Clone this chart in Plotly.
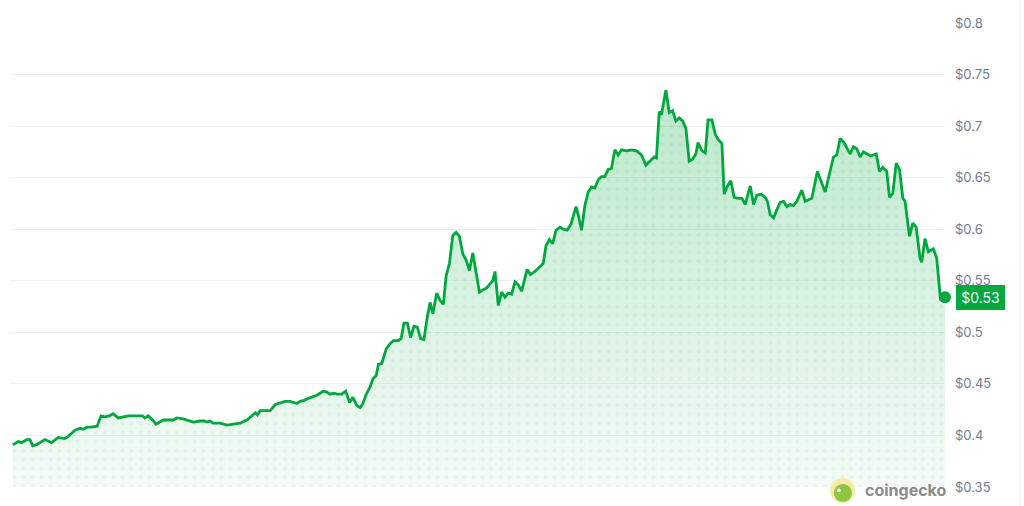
import plotly.graph_objects as go

# time (hours from start) and price (USD)
hours = [0, 1.0, 1.6, 2.5, 3.1, 3.6, 4.3, 5.8, 7.0, 8.2, 9.4, 10.0, 11.2, 12.1, 12.7, 13.4, 14.1, 14.8, 15.2,
         15.9, 16.6, 17.4, 18.1, 19.0, 19.9, 20.8, 22.3, 22.9, 23.4, 23.8, 24.4, 25.2, 25.8, 26.5, 27.1,
         28.9, 29.6, 30.7, 32.5, 33.8, 34.5, 35.0, 35.6, 36.1, 37.4, 38.6, 39.5, 41.0, 42.2, 43.7, 44.1,
         44.6, 45.0, 45.8, 46.4, 47.3, 47.9, 49.1, 50.0, 51.2, 51.8, 52.5, 53.3, 53.9, 54.8, 56.0, 56.6,
         57.2, 57.8, 58.4, 59.3, 60.0, 60.3, 60.7, 61.3, 62.0, 62.6, 63.1, 63.7, 64.4, 64.9, 65.5, 65.9,
         66.5, 67.3, 68.0, 68.6, 69.5, 70.0, 70.5, 71.1, 71.7, 72.3, 72.9, 73.5, 74.1, 74.7, 75.2, 75.7,
         76.4, 77.0, 77.6, 78.1, 78.7, 79.3, 79.9, 80.5, 81.1, 81.7, 82.3, 82.9, 83.5, 84.1, 84.7, 85.4,
         86.0, 86.5, 86.9, 87.5, 88.1, 88.7, 89.3, 89.9, 90.5, 91.1, 91.7, 92.7, 93.3, 94.1, 94.9, 95.6,
         96.1, 96.7, 97.3, 97.9, 98.6, 99.2, 99.9, 100.6, 101.5, 101.9, 102.5, 103.1, 103.7, 104.3, 104.9,
         105.5, 106.1, 106.7, 107.3, 107.9, 108.5, 109.1, 109.7, 110.6, 111.5, 112.4, 113.3, 114.1, 114.8,
         115.6, 116.0, 116.5, 116.9, 117.7, 118.3, 118.9, 119.5, 120.1, 120.7, 121.3, 121.9, 122.5, 123.1,
         123.5, 124.2, 124.8, 125.3, 126.0, 126.6, 127.1, 127.8, 128.2, 128.8, 129.4, 130.0, 130.8, 131.4,
         132.0, 132.9, 133.5, 134.1, 134.8, 135.6, 136.0, 136.5, 137.1, 137.7, 138.3, 138.9, 139.5, 140.1,
         140.7, 141.3, 142.2, 142.8, 144.0, 145.0, 145.8, 146.4, 147.9, 148.5, 149.1, 149.8, 150.9, 151.5,
         152.1, 152.7, 153.3, 153.9, 154.6, 155.6, 156.2, 156.8, 157.5, 158.0, 158.6, 159.2, 159.8, 160.4,
         160.8, 161.6, 162.2, 162.8, 163.5, 163.8, 164.4, 165.0, 165.9, 166.5, 167.2, 167.7, 168.0]

prices = [0.391, 0.394, 0.393, 0.396, 0.396, 0.390, 0.391, 0.396, 0.393, 0.398, 0.397, 0.399, 0.405, 0.407,
          0.406, 0.408, 0.408, 0.409, 0.409, 0.419, 0.418, 0.419, 0.421, 0.417, 0.418, 0.419, 0.419, 0.419,
          0.419, 0.417, 0.419, 0.415, 0.411, 0.413, 0.415, 0.415, 0.417, 0.416, 0.413, 0.414, 0.414, 0.413,
          0.414, 0.412, 0.412, 0.410, 0.411, 0.412, 0.415, 0.422, 0.420, 0.424, 0.424, 0.424, 0.424, 0.430,
          0.431, 0.433, 0.433, 0.431, 0.433, 0.434, 0.436, 0.437, 0.439, 0.443, 0.442, 0.440, 0.441, 0.440,
          0.440, 0.443, 0.439, 0.432, 0.437, 0.429, 0.427, 0.431, 0.440, 0.447, 0.455, 0.458, 0.469, 0.470,
          0.484, 0.489, 0.492, 0.492, 0.494, 0.509, 0.509, 0.495, 0.506, 0.505, 0.494, 0.493, 0.515, 0.529,
          0.518, 0.538, 0.531, 0.527, 0.555, 0.567, 0.594, 0.597, 0.593, 0.576, 0.570, 0.560, 0.577, 0.557,
          0.539, 0.541, 0.543, 0.547, 0.550, 0.559, 0.526, 0.539, 0.534, 0.538, 0.537, 0.549, 0.546, 0.540,
          0.561, 0.556, 0.559, 0.563, 0.567, 0.584, 0.590, 0.586, 0.599, 0.602, 0.600, 0.599, 0.605, 0.622,
          0.614, 0.599, 0.623, 0.636, 0.641, 0.640, 0.648, 0.651, 0.651, 0.658, 0.659, 0.677, 0.672, 0.677,
          0.676, 0.677, 0.676, 0.672, 0.662, 0.666, 0.670, 0.669, 0.714, 0.711, 0.735, 0.713, 0.715, 0.705,
          0.708, 0.705, 0.698, 0.666, 0.668, 0.673, 0.684, 0.676, 0.674, 0.706, 0.706, 0.692, 0.687, 0.683,
          0.634, 0.642, 0.647, 0.631, 0.630, 0.630, 0.624, 0.642, 0.624, 0.633, 0.634, 0.631, 0.627, 0.614,
          0.611, 0.619, 0.626, 0.627, 0.622, 0.624, 0.623, 0.627, 0.638, 0.627, 0.630, 0.656, 0.644, 0.636,
          0.670, 0.672, 0.688, 0.684, 0.673, 0.680, 0.678, 0.670, 0.675, 0.673, 0.671, 0.673, 0.656, 0.660,
          0.656, 0.631, 0.635, 0.664, 0.658, 0.630, 0.627, 0.593, 0.606, 0.602, 0.572, 0.568, 0.591, 0.578,
          0.581, 0.572, 0.531, 0.536, 0.534]

tick_vals = [0.35, 0.4, 0.45, 0.5, 0.55, 0.6, 0.65, 0.7, 0.75, 0.8]
tick_text = ["$0.35", "$0.4", "$0.45", "$0.5", "$0.55", "$0.6", "$0.65", "$0.7", "$0.75", "$0.8"]

GREEN = "#00a83e"

fig = go.Figure()

# gradient area
fig.add_trace(go.Scatter(
    x=hours, y=prices, mode="lines", line=dict(width=0), fill="tozeroy",
    fillgradient=dict(type="vertical", start=0.35, stop=0.74,
                      colorscale=[[0, "rgba(0,168,62,0.04)"], [1, "rgba(0,168,62,0.27)"]]),
    hoverinfo="skip", showlegend=False))

# dot pattern
fig.add_trace(go.Scatter(
    x=hours, y=prices, mode="lines", line=dict(width=0), fill="tozeroy",
    fillcolor="rgba(0,0,0,0)",
    fillpattern=dict(shape=".", size=9, solidity=0.18, fgcolor="rgba(0,140,60,0.10)",
                     bgcolor="rgba(0,0,0,0)"),
    hoverinfo="skip", showlegend=False))

# price line
fig.add_trace(go.Scatter(
    x=hours, y=prices, mode="lines", line=dict(color=GREEN, width=2.8),
    showlegend=False))

# last point marker
fig.add_trace(go.Scatter(
    x=[hours[-1]], y=[prices[-1]], mode="markers",
    marker=dict(color=GREEN, size=12), cliponaxis=False, showlegend=False))

fig.add_annotation(
    x=1, xref="paper", y=prices[-1], yref="y", xanchor="left", yanchor="middle",
    xshift=11, text=f"&#8202;${prices[-1]:.2f}&#8202;", showarrow=False,
    font=dict(color="white", size=14, family="Inter"),
    bgcolor=GREEN, borderpad=3, bordercolor=GREEN)

# coingecko watermark
fig.add_shape(type="circle", xref="paper", yref="paper",
              x0=0.877, x1=0.904, y0=-0.0345, y1=0.0194,
              fillcolor="#f7e9a6", line=dict(width=0), layer="above")
fig.add_shape(type="circle", xref="paper", yref="paper",
              x0=0.881, x1=0.9005, y0=-0.032, y1=0.0065,
              fillcolor="#8dc63f", line=dict(width=0), layer="above")
fig.add_shape(type="circle", xref="paper", yref="paper",
              x0=0.8845, x1=0.8885, y0=-0.0115, y1=-0.0035,
              fillcolor="white", line=dict(width=0), layer="above")
fig.add_annotation(x=0.912, xref="paper", y=-0.0065, yref="paper", xanchor="left",
                   yanchor="middle", text="<b>coingecko</b>", showarrow=False,
                   font=dict(color="#8a8a8a", size=16, family="Inter"))

fig.add_shape(type="line", xref="paper", yref="paper", x0=1.0802, x1=1.0802, y0=-0.05, y1=1.06,
              line=dict(color="#eeeeee", width=1))

fig.update_layout(
    width=1024, height=506,
    margin=dict(l=10, r=79, t=23, b=19),
    paper_bgcolor="white", plot_bgcolor="white",
    xaxis=dict(visible=False, range=[-0.5, 168.0], showgrid=False, zeroline=False),
    yaxis=dict(side="right", range=[0.35, 0.8], tickvals=tick_vals, ticktext=tick_text,
               showgrid=True, gridcolor="#eef0f3", gridwidth=1, zeroline=False, showline=False,
               ticks="", ticklabelstandoff=9,
               tickfont=dict(color="#6f7d95", size=13, family="Inter")),
)

fig.write_html("out.html", config={"displayModeBar": False},
               post_script="document.body.style.margin='0';")
